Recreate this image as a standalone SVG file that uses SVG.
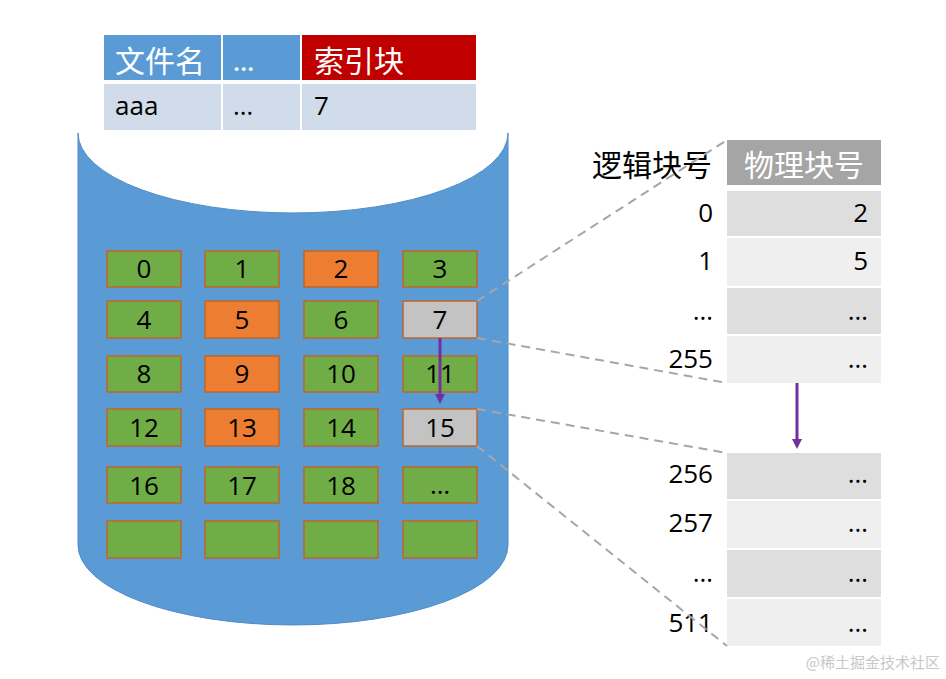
<svg xmlns="http://www.w3.org/2000/svg" width="946" height="679" viewBox="0 0 946 679">
<defs>
<style>
text{font-family:"Open Sans","Noto Sans CJK SC",sans-serif;fill:#000}
.cjk{font-family:"Noto Sans CJK SC",sans-serif}
.blk{stroke:#c0652a;stroke-width:1.5}
.g{fill:#70ad47}
.o{fill:#ed7d31}
.gr{fill:#c3c3c3}
.bt{font-size:26px;text-anchor:middle}
.num{font-size:26px;text-anchor:end}
.dash{stroke:#a6a6a6;stroke-width:2;stroke-dasharray:9 6;fill:none}
.arr{stroke:#7030a0;stroke-width:3;fill:none}
.dk{fill:#dedede}
.lt{fill:#efefef}
</style>
<marker id="ah" markerWidth="10" markerHeight="10" refX="5" refY="5" orient="auto" markerUnits="userSpaceOnUse">
<path d="M0,0 L10,5 L0,10 Z" fill="#7030a0"/>
</marker>
</defs>
<rect width="946" height="679" fill="#fff"/>

<g id="cylinder">
<path d="M78,133 L78,545 A215,80 0 0 0 508,545 L508,133 A215,80 0 0 1 78,133 Z" fill="#5b9bd5" stroke="#4f8cc6" stroke-width="1"/>
</g>

<g id="file-table">
<rect x="104" y="35" width="117" height="45" fill="#5b9bd5"/>
<rect x="223" y="35" width="77" height="45" fill="#5b9bd5"/>
<rect x="302" y="35" width="174" height="45" fill="#c00000"/>
<rect x="104" y="84" width="117" height="46" fill="#d0dcea"/>
<rect x="223" y="84" width="77" height="46" fill="#d0dcea"/>
<rect x="302" y="84" width="174" height="46" fill="#d0dcea"/>
<text x="115" y="72" class="cjk" style="font-size:30px;fill:#fff">文件名</text>
<text x="233" y="71" style="font-size:26px;fill:#fff;font-weight:600">…</text>
<text x="314" y="72" class="cjk" style="font-size:30px;fill:#fff">索引块</text>
<text x="115" y="115" style="font-size:26px">aaa</text>
<text x="233" y="115" style="font-size:26px">…</text>
<text x="314" y="115" style="font-size:26px">7</text>
</g>

<g id="blocks">
<g id="b0"><rect x="107" y="251" width="74" height="36" class="blk g"/><text x="144" y="278" class="bt">0</text></g>
<g id="b1"><rect x="205" y="251" width="74" height="36" class="blk g"/><text x="242" y="278" class="bt">1</text></g>
<g id="b2"><rect x="304" y="251" width="74" height="36" class="blk o"/><text x="341" y="278" class="bt">2</text></g>
<g id="b3"><rect x="403" y="251" width="74" height="36" class="blk g"/><text x="440" y="278" class="bt">3</text></g>
<g id="b4"><rect x="107" y="301" width="74" height="37" class="blk g"/><text x="144" y="329" class="bt">4</text></g>
<g id="b5"><rect x="205" y="301" width="74" height="37" class="blk o"/><text x="242" y="329" class="bt">5</text></g>
<g id="b6"><rect x="304" y="301" width="74" height="37" class="blk g"/><text x="341" y="329" class="bt">6</text></g>
<g id="b7"><rect x="403" y="301" width="74" height="37" class="blk gr"/><text x="440" y="329" class="bt">7</text></g>
<g id="b8"><rect x="107" y="356" width="74" height="36" class="blk g"/><text x="144" y="383" class="bt">8</text></g>
<g id="b9"><rect x="205" y="356" width="74" height="36" class="blk o"/><text x="242" y="383" class="bt">9</text></g>
<g id="b10"><rect x="304" y="356" width="74" height="36" class="blk g"/><text x="341" y="383" class="bt">10</text></g>
<g id="b11"><rect x="403" y="356" width="74" height="36" class="blk g"/><text x="440" y="383" class="bt">11</text></g>
<g id="b12"><rect x="107" y="409" width="74" height="37" class="blk g"/><text x="144" y="437" class="bt">12</text></g>
<g id="b13"><rect x="205" y="409" width="74" height="37" class="blk o"/><text x="242" y="437" class="bt">13</text></g>
<g id="b14"><rect x="304" y="409" width="74" height="37" class="blk g"/><text x="341" y="437" class="bt">14</text></g>
<g id="b15"><rect x="403" y="409" width="74" height="37" class="blk gr"/><text x="440" y="437" class="bt">15</text></g>
<g id="b16"><rect x="107" y="467" width="74" height="36" class="blk g"/><text x="144" y="495" class="bt">16</text></g>
<g id="b17"><rect x="205" y="467" width="74" height="36" class="blk g"/><text x="242" y="495" class="bt">17</text></g>
<g id="b18"><rect x="304" y="467" width="74" height="36" class="blk g"/><text x="341" y="495" class="bt">18</text></g>
<g id="bmore"><rect x="403" y="467" width="74" height="36" class="blk g"/><text x="440" y="494" class="bt">…</text></g>
<g id="b20"><rect x="107" y="521" width="74" height="37" class="blk g"/></g>
<g id="b21"><rect x="205" y="521" width="74" height="37" class="blk g"/></g>
<g id="b22"><rect x="304" y="521" width="74" height="37" class="blk g"/></g>
<g id="b23"><rect x="403" y="521" width="74" height="37" class="blk g"/></g>
</g>

<g id="index-table-1">
<rect x="727" y="140" width="154" height="45" fill="#a5a5a5"/>
<text x="712" y="176" class="cjk" style="font-size:30px;text-anchor:end">逻辑块号</text>
<text x="804" y="176" class="cjk" style="font-size:30px;fill:#fff;text-anchor:middle">物理块号</text>
<rect x="727" y="191" width="154" height="45" class="dk"/>
<rect x="727" y="238" width="154" height="48" class="lt"/>
<rect x="727" y="288" width="154" height="46" class="dk"/>
<rect x="727" y="336" width="154" height="47" class="lt"/>
<text x="713" y="222" class="num">0</text><text x="868" y="222" class="num">2</text>
<text x="713" y="270" class="num">1</text><text x="868" y="270" class="num">5</text>
<text x="713" y="320" class="num">…</text><text x="868" y="320" class="num">…</text>
<text x="713" y="368" class="num">255</text><text x="868" y="368" class="num">…</text>
</g>

<g id="index-table-2">
<rect x="727" y="453" width="154" height="46" class="dk"/>
<rect x="727" y="501" width="154" height="47" class="lt"/>
<rect x="727" y="550" width="154" height="47" class="dk"/>
<rect x="727" y="599" width="154" height="47" class="lt"/>
<text x="713" y="483" class="num">256</text><text x="868" y="483" class="num">…</text>
<text x="713" y="532" class="num">257</text><text x="868" y="532" class="num">…</text>
<text x="713" y="582" class="num">…</text><text x="868" y="582" class="num">…</text>
<text x="713" y="632" class="num">511</text><text x="868" y="632" class="num">…</text>
</g>

<g id="connectors">
<line x1="477" y1="301" x2="727" y2="140" class="dash"/>
<line x1="477" y1="338" x2="727" y2="383" class="dash"/>
<line x1="477" y1="409" x2="727" y2="453" class="dash"/>
<line x1="477" y1="446" x2="727" y2="646" class="dash"/>
<line x1="440" y1="338" x2="440" y2="399" class="arr" marker-end="url(#ah)"/>
<line x1="797" y1="383" x2="797" y2="444" class="arr" marker-end="url(#ah)"/>
</g>

<text x="940" y="668" class="cjk" style="font-size:15px;fill:#c8c8c8;text-anchor:end">@稀土掘金技术社区</text>
</svg>
